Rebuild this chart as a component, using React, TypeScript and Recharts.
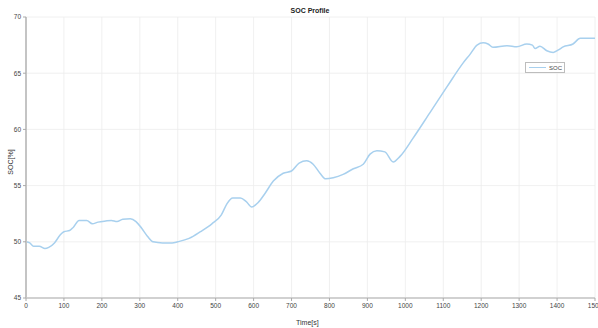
import React from "react";
import {
  LineChart,
  Line,
  XAxis,
  YAxis,
  CartesianGrid,
  Legend,
} from "recharts";

// state of charge over time
const timeS = [
  0, 10, 20, 35, 50, 60, 75, 90, 100, 115, 125, 140, 160, 175, 190, 210, 225,
  240, 255, 275, 290, 305, 320, 335, 360, 385, 400, 430, 460, 490, 515, 530,
  545, 565, 580, 595, 612, 630, 652, 678, 700, 720, 740, 757, 775, 790, 810,
  836, 863, 889, 907, 925, 946, 968, 986, 1020, 1065, 1110, 1152, 1171, 1189,
  1205, 1218, 1231, 1268, 1294, 1320, 1335, 1342, 1355, 1373, 1390, 1405, 1416,
  1442, 1461, 1480, 1500,
];
const socPct = [
  50.0, 49.9, 49.6, 49.6, 49.4, 49.5, 49.9, 50.6, 50.9, 51.0, 51.3, 51.9, 51.9,
  51.6, 51.75, 51.85, 51.9, 51.8, 52.0, 52.05, 51.8, 51.2, 50.5, 50.0, 49.9,
  49.9, 50.0, 50.3, 50.9, 51.6, 52.4, 53.4, 53.9, 53.9, 53.6, 53.1, 53.5, 54.3,
  55.4, 56.1, 56.3, 57.0, 57.2, 56.9, 56.1, 55.6, 55.7, 56.0, 56.5, 56.9, 57.8,
  58.1, 58.0, 57.1, 57.6, 59.2, 61.5, 63.8, 65.9, 66.7, 67.5, 67.7, 67.6, 67.3,
  67.45, 67.35, 67.6, 67.5, 67.2, 67.4, 67.0, 66.85, 67.1, 67.35, 67.6, 68.1,
  68.1, 68.1,
];

const xTicks = [0, 100, 200, 300, 400, 500, 600, 700, 800, 900, 1000, 1100, 1200, 1300, 1400, 1500];
const yTicks = [45, 50, 55, 60, 65, 70];

const data = timeS.map((t, i) => ({ t, soc: socPct[i] }));

const FONT = "'Liberation Sans', Arial, sans-serif";
const LINE = "#a8d0ee";

function SocLegend() {
  return (
    <div
      style={{
        display: "flex",
        alignItems: "center",
        border: "1px solid #bdbdbd",
        background: "#fff",
        width: 36,
        height: 9,
        padding: "0 1px",
        fontFamily: FONT,
        fontSize: 6,
        color: "#444",
      }}
    >
      <span style={{ width: 17, height: 1.5, background: LINE, margin: "0 3px 0 2px" }} />
      SOC
    </div>
  );
}

export default function App() {
  return (
    <div style={{ position: "absolute", left: 0, top: 0, width: 598, height: 328, background: "#fff" }}>
      <div
        style={{
          position: "absolute",
          left: 0,
          top: 7,
          width: 620,
          textAlign: "center",
          fontFamily: FONT,
          fontSize: 7,
          fontWeight: "bold",
          color: "#222",
        }}
      >
        SOC Profile
      </div>
      <div
        style={{
          position: "absolute",
          left: 296,
          top: 319,
          fontFamily: FONT,
          fontSize: 7,
          color: "#333",
        }}
      >
        Time[s]
      </div>
      <div
        style={{
          position: "absolute",
          left: 10,
          top: 162,
          transform: "translate(-50%, -50%) rotate(-90deg)",
          fontFamily: FONT,
          fontSize: 7,
          color: "#333",
          whiteSpace: "nowrap",
        }}
      >
        SOC[%]
      </div>
      <LineChart
        width={598}
        height={328}
        data={data}
        margin={{ top: 17, right: 3, left: 0, bottom: 0 }}
        style={{ position: "absolute", left: 0, top: 0 }}
      >
        <CartesianGrid stroke="#ececec" strokeWidth={0.8} />
        <XAxis
          dataKey="t"
          type="number"
          domain={[0, 1500]}
          ticks={xTicks}
          height={19}
          interval={0}
          tick={{ fontSize: 6.5, fill: "#444", fontFamily: FONT }}
          tickSize={3}
          tickLine={{ stroke: "#aaa" }}
          axisLine={{ stroke: "#c4c4c4", strokeWidth: 1.5 }}
        />
        <YAxis
          type="number"
          domain={[45, 70]}
          ticks={yTicks}
          width={26}
          interval={0}
          tick={{ fontSize: 6.5, fill: "#444", fontFamily: FONT }}
          tickSize={3}
          tickLine={{ stroke: "#aaa" }}
          axisLine={{ stroke: "#c4c4c4", strokeWidth: 2 }}
        />
        <Legend
          content={() => <SocLegend />}
          wrapperStyle={{ position: "absolute", left: 525, top: 62, width: "auto" }}
        />
        <Line
          type="monotone"
          dataKey="soc"
          name="SOC"
          stroke={LINE}
          strokeWidth={1.5}
          dot={false}
          isAnimationActive={false}
        />
      </LineChart>
    </div>
  );
}
